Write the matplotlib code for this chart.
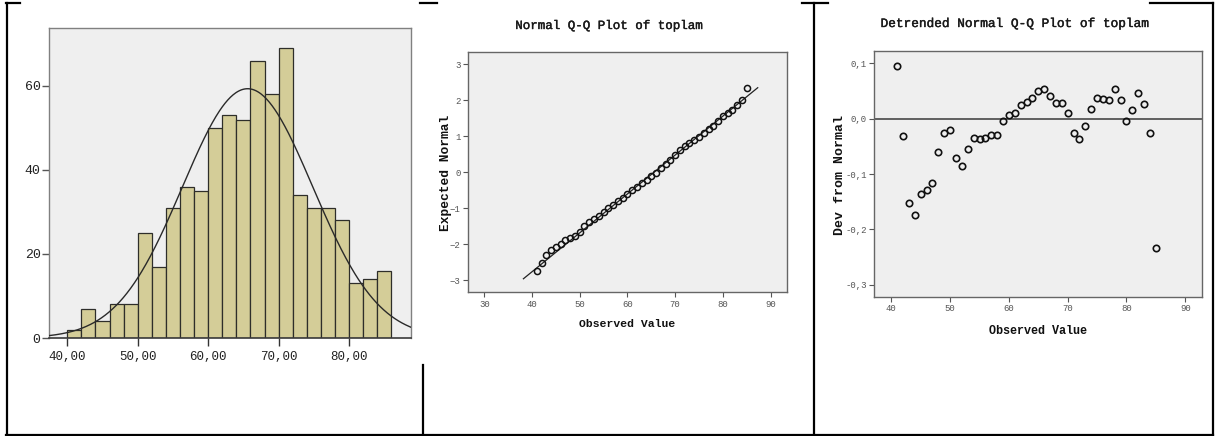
import numpy as np
import matplotlib
matplotlib.use("Agg")
import matplotlib.pyplot as plt
import matplotlib.patheffects as pe
from matplotlib.lines import Line2D

# ---------------- data ----------------
# Histogram of toplam
bin_left = [40, 42, 44, 46, 48, 50, 52, 54, 56, 58, 60, 62, 64, 66, 68, 70,
            72, 74, 76, 78, 80, 82, 84]
bin_width = 2
hist_counts = [2, 7, 4, 8, 8, 25, 17, 31, 36, 35, 50, 53, 52, 66, 58, 69,
               34, 31, 31, 28, 13, 14, 16]
fit_mean = 65.6
fit_sd = 9.25
hist_xticks = [40, 50, 60, 70, 80]
hist_xticklabels = ["40,00", "50,00", "60,00", "70,00", "80,00"]
hist_yticks = [0, 20, 40, 60]
hist_yticklabels = ["0", "20", "40", "60"]

# Normal Q-Q / detrended Q-Q
obs_values = [41, 42, 43, 44, 45, 46, 47, 48, 49, 50, 51, 52, 53, 54, 55,
              56, 57, 58, 59, 60, 61, 62, 63, 64, 65, 66, 67, 68, 69, 70,
              71, 72, 73, 74, 75, 76, 77, 78, 79, 80, 81, 82, 83, 84, 85]
dev_from_normal = [0.096, -0.031, -0.152, -0.174, -0.136, -0.129, -0.117,
                   -0.060, -0.025, -0.020, -0.071, -0.086, -0.054, -0.034,
                   -0.037, -0.035, -0.029, -0.029, -0.005, 0.007, 0.010,
                   0.025, 0.031, 0.037, 0.050, 0.053, 0.041, 0.029, 0.028,
                   0.011, -0.026, -0.037, -0.013, 0.017, 0.037, 0.035, 0.034,
                   0.054, 0.034, -0.005, 0.016, 0.047, 0.026, -0.025, -0.233]
qq_line_range = [38.2, 87.3]
qq_xticks = [30, 40, 50, 60, 70, 80, 90]
qq_yticks = [-3, -2, -1, 0, 1, 2, 3]
det_xticks = [40, 50, 60, 70, 80, 90]
det_yticks = [-0.3, -0.2, -0.1, 0.0, 0.1]
det_yticklabels = ["-0,3", "-0,2", "-0,1", "0,0", "0,1"]

# ---------------- figure ----------------
W, H = 1215, 436
fig = plt.figure(figsize=(W / 100, H / 100), dpi=100, facecolor="white")
MONO = "Liberation Mono"
plt.rcParams["font.family"] = [MONO, "DejaVu Sans Mono", "DejaVu Sans"]


def box(l, t, r, b):
    return [l / W, 1 - b / H, (r - l) / W, (b - t) / H]


def fx(x):
    return x / W


def fy(y):
    return 1 - y / H


PANEL_BG = "#efefef"
thick = [pe.withStroke(linewidth=0.3, foreground="#222222")]

# ---- histogram ----
ax1 = fig.add_axes(box(49, 28, 411, 338))
ax1.set_facecolor(PANEL_BG)
ax1.bar(bin_left, hist_counts, width=bin_width, align="edge",
        color="#d4cd98", edgecolor="#2e2e2a", linewidth=0.9, zorder=2)
ax1.set_xlim(37.4, 88.8)
ax1.set_ylim(0, 73.8)
n_total = float(np.sum(hist_counts))
xs = np.linspace(37.4, 88.8, 400)
pdf = np.exp(-0.5 * ((xs - fit_mean) / fit_sd) ** 2) / (fit_sd * np.sqrt(2 * np.pi))
ax1.plot(xs, n_total * bin_width * pdf, color="#2a2a2a", lw=1.0, zorder=3)
ax1.set_xticks(hist_xticks)
ax1.set_xticklabels(hist_xticklabels)
ax1.set_yticks(hist_yticks)
ax1.set_yticklabels(hist_yticklabels)
ax1.tick_params(axis="x", direction="out", length=6, width=1.0,
                color="#333333", labelsize=9, labelcolor="#222222", pad=3)
ax1.tick_params(axis="y", direction="out", length=5, width=1.0,
                color="#555555", labelsize=9.5, labelcolor="#222222", pad=1)
for s in ["top", "right", "left"]:
    ax1.spines[s].set_color("#808080")
    ax1.spines[s].set_linewidth(1.0)
ax1.spines["bottom"].set_color("#3a3a3a")
ax1.spines["bottom"].set_linewidth(1.2)

# ---- normal Q-Q ----
obs = np.array(obs_values, dtype=float)
dev = np.array(dev_from_normal)
expected_normal = (obs - fit_mean) / fit_sd - dev

ax2 = fig.add_axes(box(468.3, 52.3, 787.3, 292))
ax2.set_facecolor(PANEL_BG)
lx = np.array(qq_line_range)
ax2.plot(lx, (lx - fit_mean) / fit_sd, color="#222222", lw=0.9, zorder=2)
ax2.plot(obs, expected_normal, linestyle="none", marker="o", markersize=4.4,
         markerfacecolor="none", markeredgecolor="#111111",
         markeredgewidth=1.1, zorder=3)
ax2.set_xlim(26.65, 93.5)
ax2.set_ylim(-3.33, 3.33)
ax2.set_xticks(qq_xticks)
ax2.set_yticks(qq_yticks)
ax2.tick_params(direction="out", length=3.5, width=0.8, color="#555555",
                labelsize=6.5, labelcolor="#555555", pad=2)
for s in ax2.spines.values():
    s.set_color("#666666")
    s.set_linewidth(1.0)

fig.text(fx(609), fy(26), "Normal Q-Q Plot of toplam", ha="center",
         va="center", fontsize=9, color="#1a1a1a", family=MONO,
         path_effects=thick)
fig.text(fx(627.5), fy(324), "Observed Value", ha="center", va="center",
         fontsize=8.2, fontweight="bold", color="#111111", family=MONO)
fig.text(fx(446), fy(172.5), "Expected Normal", ha="center", va="center",
         rotation=90, fontsize=9.3, fontweight="bold", color="#111111",
         family=MONO)

# ---- detrended Q-Q ----
ax3 = fig.add_axes(box(874.3, 51.3, 1202.3, 296.7))
ax3.set_facecolor(PANEL_BG)
ax3.axhline(0, color="#555555", lw=1.3, zorder=2)
ax3.plot(obs, dev, linestyle="none", marker="o", markersize=4.6,
         markerfacecolor="none", markeredgecolor="#111111",
         markeredgewidth=1.2, zorder=3)
ax3.set_xlim(37.1, 92.9)
ax3.set_ylim(-0.322, 0.122)
ax3.set_xticks(det_xticks)
ax3.set_yticks(det_yticks)
ax3.set_yticklabels(det_yticklabels)
ax3.tick_params(direction="out", length=3.5, width=0.8, color="#555555",
                labelsize=6.5, labelcolor="#555555", pad=2)
for s in ax3.spines.values():
    s.set_color("#666666")
    s.set_linewidth(1.0)

fig.text(fx(1014), fy(24), "Detrended Normal Q-Q Plot of toplam",
         ha="center", va="center", fontsize=9.2, color="#1a1a1a",
         family=MONO, path_effects=thick)
fig.text(fx(1037.8), fy(331), "Observed Value", ha="center", va="center",
         fontsize=8.5, fontweight="bold", color="#111111", family=MONO)
fig.text(fx(840), fy(174.7), "Dev from Normal", ha="center", va="center",
         rotation=90, fontsize=9.5, fontweight="bold", color="#111111",
         family=MONO)

# ---- table borders (visible segments) ----
segs = [
    ((6, 3.5), (20, 3.5)),
    ((420, 3.5), (437, 3.5)),
    ((802, 3.5), (828, 3.5)),
    ((1150, 3.5), (1213, 3.5)),
    ((6.5, 3), (6.5, 435)),
    ((6, 435), (1213, 435)),
    ((423, 365), (423, 435)),
    ((814, 3), (814, 435)),
    ((1212.5, 3), (1212.5, 435)),
]
for (x0, y0), (x1, y1) in segs:
    fig.add_artist(Line2D([fx(x0), fx(x1)], [fy(y0), fy(y1)],
                          transform=fig.transFigure, color="black", lw=1.6))

fig.savefig("out.png", dpi=100, facecolor="white")
